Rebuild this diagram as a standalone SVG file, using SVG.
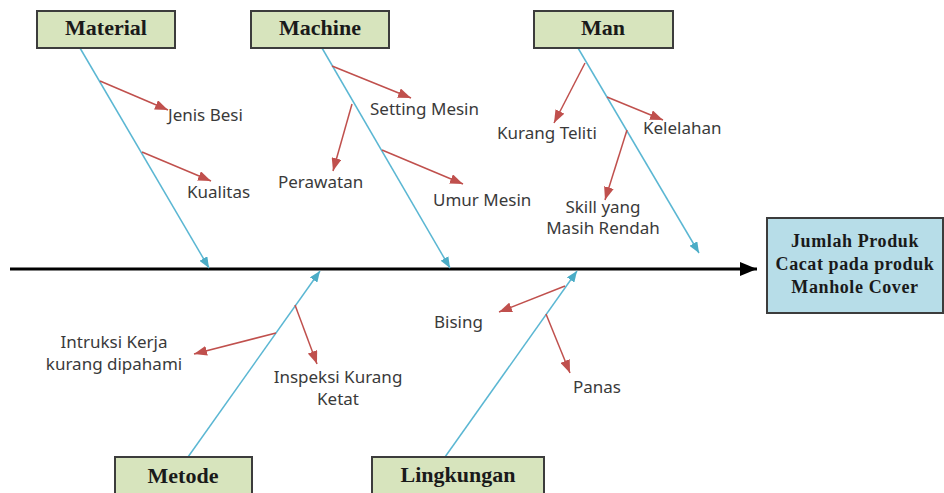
<svg xmlns="http://www.w3.org/2000/svg" width="944" height="493" viewBox="0 0 944 493">
<style>
.cat rect{fill:#d7e4bd;stroke:#3c3c3c;stroke-width:2}
.cat text{font-family:"Liberation Serif",serif;font-weight:bold;font-size:22px;fill:#1a1a1a;text-anchor:middle}
.eff rect{fill:#b7dde8;stroke:#3c3c3c;stroke-width:2}
.eff text{font-family:"Liberation Serif",serif;font-weight:bold;font-size:18px;letter-spacing:0.6px;fill:#1a1a1a;text-anchor:middle}
.lbl{font-family:"Noto Sans","Open Sans",sans-serif;font-size:17px;fill:#3a3a3a}
.mid{text-anchor:middle}
.bone{stroke:#5bb7d3;stroke-width:1.5;fill:none;marker-end:url(#ab)}
.sub{stroke:#c0504d;stroke-width:1.5;fill:none;marker-end:url(#ar)}
</style>
<defs>
<marker id="ab" markerUnits="userSpaceOnUse" markerWidth="11" markerHeight="9" refX="11" refY="4.5" orient="auto"><path d="M0,0 L11,4.5 L0,9 z" fill="#4bacc6"/></marker>
<marker id="ar" markerUnits="userSpaceOnUse" markerWidth="13" markerHeight="10" refX="13" refY="5" orient="auto"><path d="M0,0 L13,5 L0,10 z" fill="#c0504d"/></marker>
<marker id="ak" markerUnits="userSpaceOnUse" markerWidth="17" markerHeight="14" refX="17" refY="7" orient="auto"><path d="M0,0 L17,7 L0,14 z" fill="#000"/></marker>
</defs>
<g id="connectors">
<line x1="10" y1="269" x2="757" y2="269" stroke="#000" stroke-width="3" marker-end="url(#ak)"/>
<line class="bone" x1="80" y1="48" x2="209" y2="268"/>
<line class="bone" x1="322" y1="48" x2="450" y2="268"/>
<line class="bone" x1="578" y1="48" x2="699" y2="253"/>
<line class="bone" x1="188" y1="457" x2="320" y2="271"/>
<line class="bone" x1="445" y1="457" x2="577" y2="271"/>
<line class="sub" x1="100" y1="81" x2="168" y2="110"/>
<line class="sub" x1="142" y1="152" x2="211" y2="181"/>
<line class="sub" x1="332" y1="66" x2="411" y2="98"/>
<line class="sub" x1="352" y1="104" x2="333" y2="171"/>
<line class="sub" x1="382" y1="150" x2="463" y2="184"/>
<line class="sub" x1="585" y1="63" x2="554" y2="123"/>
<line class="sub" x1="607" y1="97" x2="663" y2="120"/>
<line class="sub" x1="627" y1="130" x2="605" y2="200"/>
<line class="sub" x1="276" y1="333" x2="194" y2="354"/>
<line class="sub" x1="295" y1="305" x2="317" y2="364"/>
<line class="sub" x1="565" y1="286" x2="499" y2="312"/>
<line class="sub" x1="546" y1="314" x2="570" y2="373"/>
</g>
<g id="material" class="cat"><rect x="37" y="11" width="138" height="37"/><text x="106" y="35">Material</text></g>
<g id="machine" class="cat"><rect x="251" y="11" width="138" height="37"/><text x="320" y="35">Machine</text></g>
<g id="man" class="cat"><rect x="534" y="11" width="139" height="37"/><text x="603" y="35">Man</text></g>
<g id="metode" class="cat"><rect x="115" y="457" width="137" height="37"/><text x="183" y="483">Metode</text></g>
<g id="lingkungan" class="cat"><rect x="372" y="457" width="172" height="37"/><text x="458" y="482">Lingkungan</text></g>
<g id="effect" class="eff"><rect x="767" y="218" width="176" height="95"/>
<text x="855" y="247">Jumlah Produk</text>
<text x="855" y="270">Cacat pada produk</text>
<text x="855" y="293">Manhole Cover</text></g>
<g id="labels">
<text class="lbl" x="168" y="121">Jenis Besi</text>
<text class="lbl" x="187" y="198">Kualitas</text>
<text class="lbl" x="370" y="115">Setting Mesin</text>
<text class="lbl" x="278" y="188">Perawatan</text>
<text class="lbl" x="433" y="206">Umur Mesin</text>
<text class="lbl" x="497" y="139">Kurang Teliti</text>
<text class="lbl" x="643" y="134">Kelelahan</text>
<text class="lbl mid" x="603" y="213">Skill yang</text>
<text class="lbl mid" x="603" y="234">Masih Rendah</text>
<text class="lbl mid" x="114" y="348">Intruksi Kerja</text>
<text class="lbl mid" x="114" y="370">kurang dipahami</text>
<text class="lbl mid" x="338" y="383">Inspeksi Kurang</text>
<text class="lbl mid" x="338" y="405">Ketat</text>
<text class="lbl" x="434" y="328">Bising</text>
<text class="lbl" x="573" y="393">Panas</text>
</g>
</svg>
